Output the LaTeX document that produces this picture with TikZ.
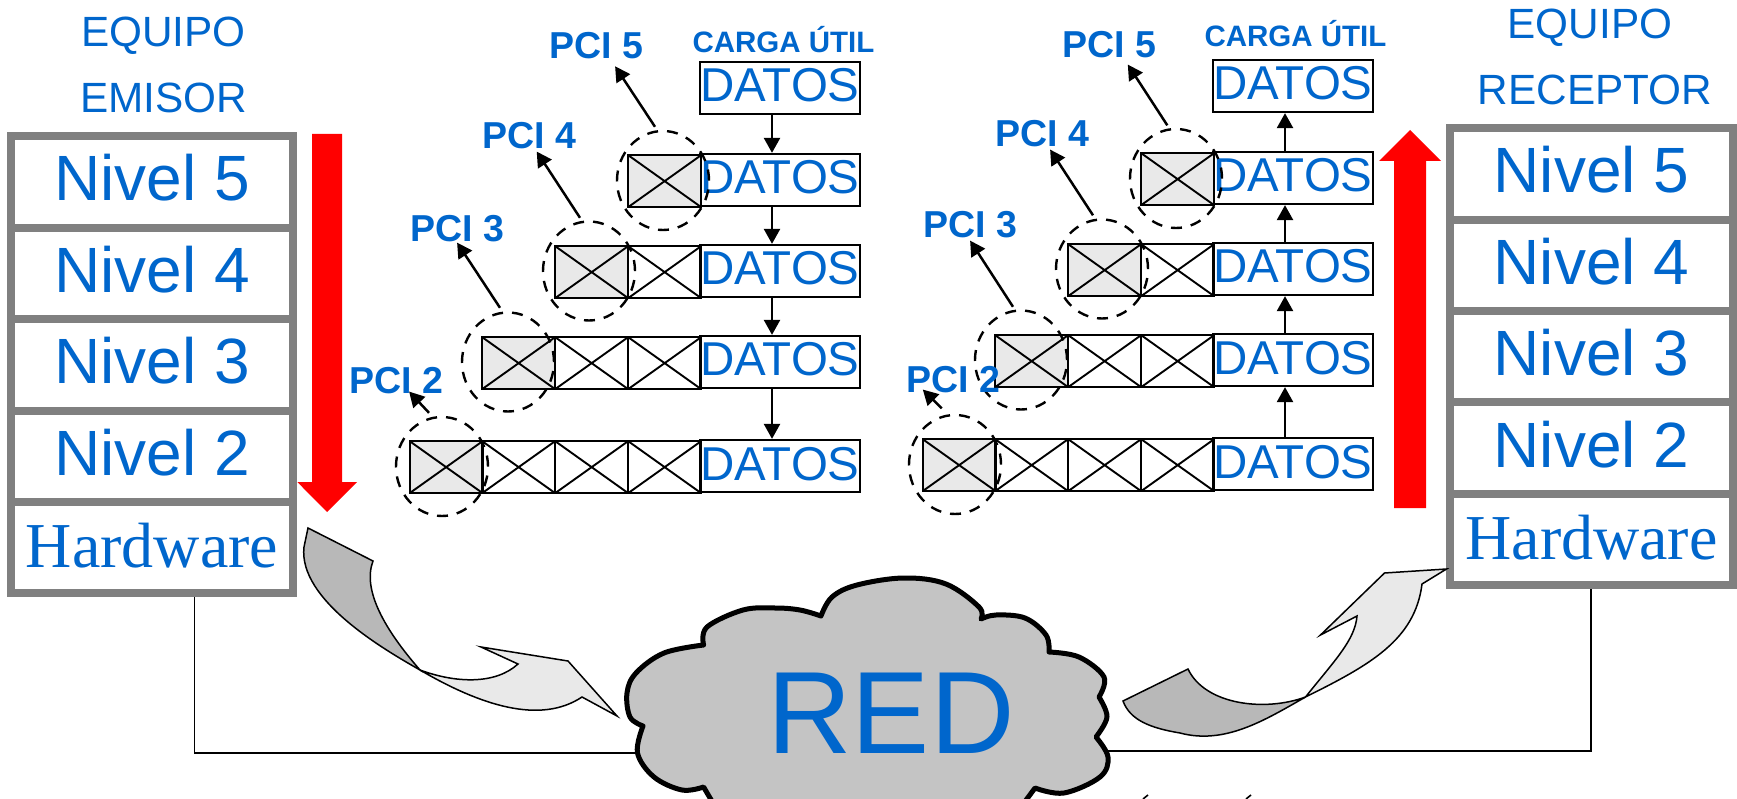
\documentclass[tikz,border=0pt]{standalone}
\usepackage{fontspec}
\setmainfont{Liberation Sans}
\newfontfamily\serifface{Liberation Serif}
\usetikzlibrary{arrows.meta,shapes.geometric}
\definecolor{txtblue}{HTML}{0066CC}
\definecolor{framegray}{HTML}{808080}
\definecolor{cloudgray}{HTML}{C4C4C4}
\definecolor{cellgray}{HTML}{E9E9E9}
\definecolor{flapdark}{HTML}{B8B8B8}
\newcommand\fs[1]{\fontsize{#1}{#1}\selectfont}
\tikzset{
  lvl/.style={draw=framegray,line width=8pt,fill=white,minimum width=282.5pt,minimum height=91.5pt,inner sep=0pt,
     text=txtblue,font=\fs{64},text height=45pt,text depth=7pt,align=center},
  hwbox/.style={lvl,font=\serifface\fs{64},text height=42pt,text depth=3pt},
  title/.style={text=txtblue,font=\fs{42.3},inner sep=0pt,anchor=base},
  pci/.style={text=txtblue,font=\bfseries\fs{37.5},inner sep=0pt,anchor=base west},
  carga/.style={text=txtblue,font=\bfseries\fs{29.5},inner sep=0pt,anchor=base},
  datbox/.style={draw=black,line width=2.3pt,fill=white,minimum width=160pt,minimum height=52pt,inner sep=0pt,
     text=txtblue,font=\fs{47.5},text height=34pt,text depth=6pt},
  xcell/.style={draw=black,line width=2.3pt,minimum width=73pt,minimum height=52pt,inner sep=0pt,anchor=north west,
     path picture={\draw[line width=1.9pt] (path picture bounding box.north west)--(path picture bounding box.south east)
       (path picture bounding box.north east)--(path picture bounding box.south west);}},
  hdrcell/.style={xcell,fill=cellgray},
  ring/.style={draw=black,ellipse,dash pattern=on 11pt off 9pt,line width=2.4pt,minimum width=92pt,minimum height=99pt,inner sep=0pt},
  wire/.style={draw=black,line width=1.4pt},
  flow/.style={line width=2.5pt,-{Triangle[length=15pt,width=16pt]}},
  pciarrow/.style={line width=2.5pt,-{Triangle[length=15pt,width=16pt]}},
  redarrow/.style={fill=red,draw=none},
  flapline/.style={draw=black,line width=1.5pt,line join=miter},
}
% one column of headers and payloads: #1 = name prefix
\newcommand\pdus[1]{%
  \node[datbox] (#1d1) at (780,88) {DATOS};
  \node[datbox] (#1d2) at (780,180) {DATOS};
  \node[datbox] (#1d3) at (780,271) {DATOS};
  \node[datbox] (#1d4) at (780,362) {DATOS};
  \node[datbox] (#1d5) at (780,466) {DATOS};
  \node[hdrcell] at (627,154) {};
  \node[hdrcell] at (554,245) {};
  \node[xcell] at (627,245) {};
  \node[hdrcell] at (481,336) {};
  \foreach \x in {554,627} \node[xcell] at (\x,336) {};
  \node[hdrcell] at (408.5,440) {};
  \foreach \x in {481,554,627} \node[xcell] at (\x,440) {};
  \node[ring] (#1r5) at (663,180.5) {};
  \node[ring] (#1r4) at (589,271) {};
  \node[ring] (#1r3) at (508,362) {};
  \node[ring] (#1r2) at (442,466.5) {};
}
\begin{document}
\begin{tikzpicture}[x=1pt,y=-1pt]
\useasboundingbox (0,0) rectangle (1737,799);
\clip (0,0) rectangle (1737,799);
\fill[white] (0,0) rectangle (1737,799);

% stacks
\node[lvl] (L5) at (152,182) {Nivel 5};
\node[lvl] (L4) at (152,273.5) {Nivel 4};
\node[lvl] (L3) at (152,365) {Nivel 3};
\node[lvl] (L2) at (152,456.5) {Nivel 2};
\node[hwbox] (LH) at (152,547.5) {Hardware};
\node[lvl] (R5) at (1591.5,174) {Nivel 5};
\node[lvl] (R4) at (1591.5,265.5) {Nivel 4};
\node[lvl] (R3) at (1591.5,356.5) {Nivel 3};
\node[lvl] (R2) at (1591.5,448) {Nivel 2};
\node[hwbox] (RH) at (1591.5,539.5) {Hardware};

% titles
\node[title] (t1) at (163.5,47) {EQUIPO};
\node[title] (t2) at (163.5,113) {EMISOR};
\node[title] (t3) at (1590,39) {EQUIPO};
\node[title] (t4) at (1595,105) {RECEPTOR};

% red arrows
\fill[redarrow] (312,134) -- (342,134) -- (342,482) -- (357,482) -- (327,512) -- (297.3,482) -- (312,482) -- cycle;
\fill[redarrow] (1394,508) -- (1426,508) -- (1426,161) -- (1441,161) -- (1410,130) -- (1379,161) -- (1394,161) -- cycle;

% wires
\coordinate (cloudW) at (640,753);
\coordinate (cloudE) at (1106,751);
\draw[wire] ([xshift=42.6pt]LH.south) |- (cloudW);
\draw[wire] (cloudE) -| ([xshift=-0.5pt]RH.south);

% cloud
\draw[draw=black,fill=cloudgray,line width=5pt,line join=round]
  plot[smooth,tension=.6] coordinates {(703.6,645) (707,627) (743,610) (775,608) (800,610) (821,616)}
  -- plot[smooth,tension=.6] coordinates {(821,616) (832,597) (857,585) (904,578) (946,584) (979,607) (981,619)}
  -- plot[smooth,tension=.6] coordinates {(981,619) (996,615) (1025,618) (1046,635) (1049,652)}
  -- plot[smooth,tension=.6] coordinates {(1049,652) (1079,657) (1104,677) (1099,697)}
  -- plot[smooth,tension=.6] coordinates {(1099,697) (1107,717) (1096,737)}
  -- plot[smooth,tension=.6] coordinates {(1096,737) (1108,757) (1100,777) (1064,793) (1035,788)}
  -- (1015,815) -- (720,815)
  -- plot[smooth,tension=.6] coordinates {(703.6,787) (682,790) (654,777) (637.5,753) (643,726)}
  -- plot[smooth,tension=.6] coordinates {(643,726) (630,717) (627,693) (636,673) (664,653) (703.6,645)}
  -- cycle;
\node[text=txtblue,font=\fs{117},inner sep=0pt,anchor=base] (red) at (891,753) {RED};
% cut-off marks at the lower edge
\draw[line width=1.6pt] (1143,799) -- (1148,795);
\draw[line width=1.6pt] (1246,799) -- (1251,795);

% left flap arrow
\draw[flapline,fill=flapdark] (308,528) -- (373,561)
  .. controls (362,590) and (385,630) .. (420,670)
  .. controls (385,650) and (298,600) .. (304,547) -- cycle;
\draw[flapline,fill=cellgray] (420,670)
  .. controls (455,683) and (495,685) .. (518,664)
  -- (481,647) -- (568,661) -- (617,716) -- (582,697)
  .. controls (540,725) and (480,705) .. (420,670) -- cycle;
% right flap arrow
\draw[flapline,fill=flapdark] (1123,701) -- (1188,669)
  .. controls (1205,705) and (1265,712) .. (1305.5,697)
  .. controls (1265,720) and (1225,745) .. (1180,733)
  .. controls (1150,728) and (1130,720) .. (1123,701) -- cycle;
\draw[flapline,fill=cellgray] (1305.5,697)
  .. controls (1335,660) and (1355,640) .. (1357,616)
  -- (1320.5,635) -- (1384.5,573) -- (1446.5,569) -- (1422,584)
  .. controls (1415,640) and (1370,665) .. (1305.5,697) -- cycle;

% encapsulation columns
\begin{scope}
\pdus{a}
\end{scope}
\begin{scope}[shift={(513,-2)}]
\pdus{b}
\end{scope}

% labels
\node[carga] (ca) at (783.5,53) {CARGA ÚTIL};
\node[carga] (cb) at (1295.5,47) {CARGA ÚTIL};
\node[pci] (ap5) at (549,59) {PCI 5};
\node[pci] (ap4) at (482,149) {PCI 4};
\node[pci] (ap3) at (410,242) {PCI 3};
\node[pci] (ap2) at (349,393) {PCI 2};
\node[pci] (bp5) at (1062,58) {PCI 5};
\node[pci] (bp4) at (995,147) {PCI 4};
\node[pci] (bp3) at (923,238) {PCI 3};
\node[pci] (bp2) at (906,392) {PCI 2};

% flow arrows
\foreach \i/\j in {1/2,2/3,3/4,4/5}{
  \draw[flow] ([xshift=-8pt]ad\i.south) -- ([xshift=-8pt]ad\j.north);
  \draw[flow] ([xshift=-8pt]bd\j.north) -- ([xshift=-8pt]bd\i.south);
}

% PCI arrows
\draw[pciarrow] ([shift={(-8,-3)}]ar5.north) -- ([shift={(19,6.7)}]ap5.south);
\draw[pciarrow] ([shift={(-9,-2.5)}]ar4.north) -- ([shift={(7.6,2)}]ap4.south);
\draw[pciarrow] ([shift={(-8,-3.5)}]ar3.north) -- ([shift={(0,0)}]ap3.south);
\draw[pciarrow] ([shift={(-13,-3)}]ar2.north) -- ([shift={(13,-2)}]ap2.south);
\draw[pciarrow] ([shift={(-8.7,-2.5)}]br5.north) -- ([shift={(18.7,6)}]bp5.south);
\draw[pciarrow] ([shift={(-9,-3)}]br4.north) -- ([shift={(8,2)}]bp4.south);
\draw[pciarrow] ([shift={(-8,-2.5)}]br3.north) -- ([shift={(0,2)}]bp3.south);
\draw[pciarrow] ([shift={(-13.3,-5.5)}]br2.north) -- ([shift={(-30.3,-3)}]bp2.south);
\end{tikzpicture}
\end{document}
